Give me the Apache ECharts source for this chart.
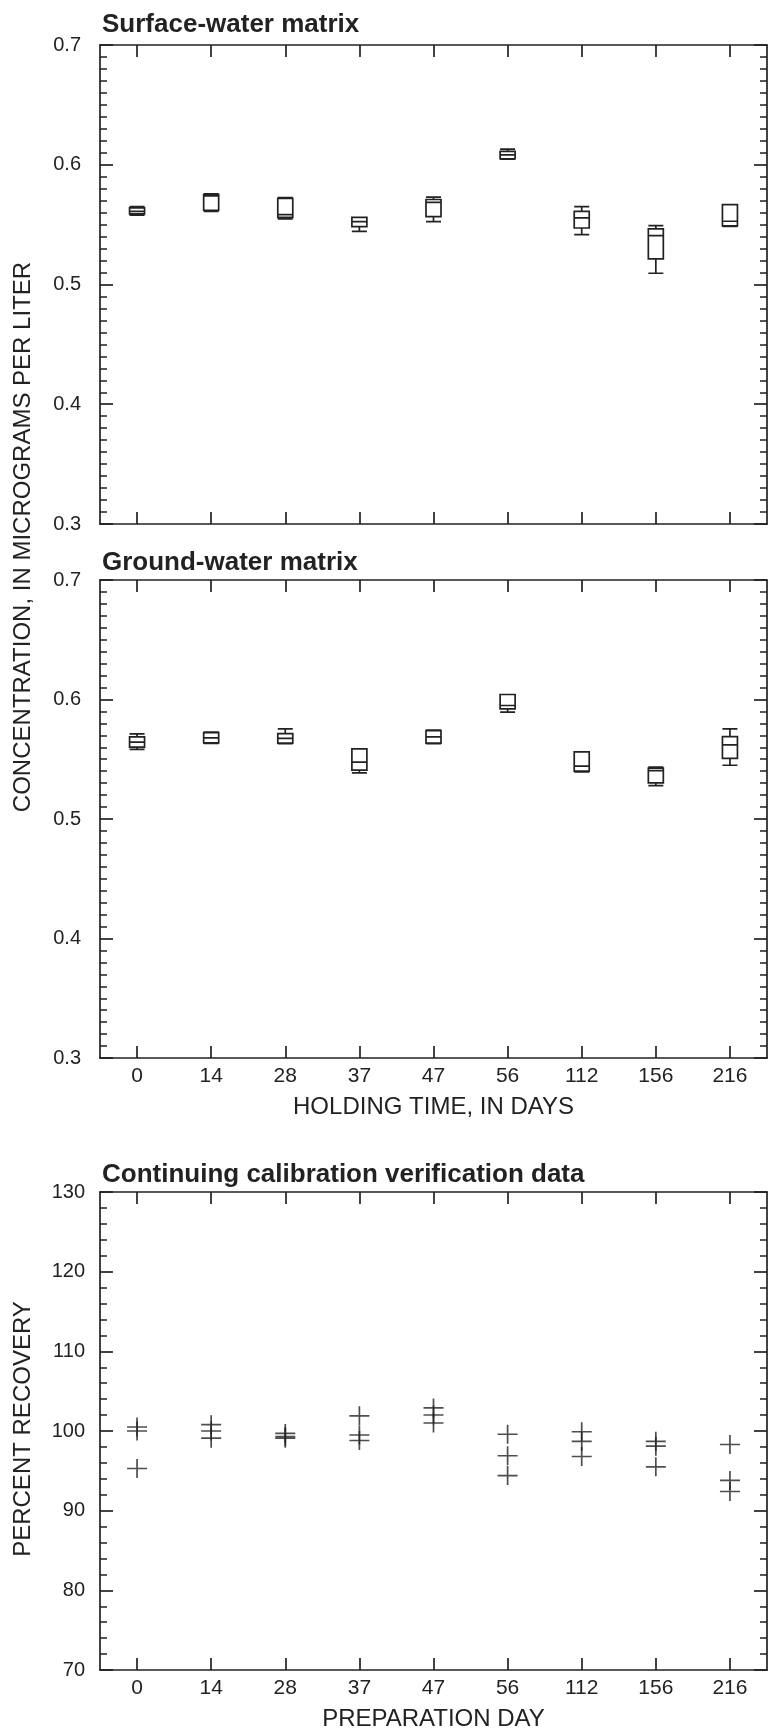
<!DOCTYPE html>
<html>
<head>
<meta charset="utf-8">
<script src="https://cdn.jsdelivr.net/npm/echarts@6/dist/echarts.min.js"></script>
<style>
html,body{margin:0;padding:0;background:#fff;}
#chart{width:774px;height:1733px;}
</style>
</head>
<body>
<div id="chart"></div>
<script>
// Categories (holding time / preparation day)
const days = ['0','14','28','37','47','56','112','156','216'];

// Surface-water matrix box statistics (micrograms per liter)
const surfMin = [0.5580, 0.5611, 0.5547, 0.5444, 0.5525, 0.6047, 0.5417, 0.5094, 0.5486];
const surfQ1  = [0.5590, 0.5620, 0.5560, 0.5483, 0.5567, 0.6050, 0.5472, 0.5214, 0.5490];
const surfMed = [0.5610, 0.5740, 0.5583, 0.5525, 0.5686, 0.6083, 0.5556, 0.5408, 0.5528];
const surfQ3  = [0.5640, 0.5750, 0.5720, 0.5561, 0.5710, 0.6111, 0.5611, 0.5464, 0.5667];
const surfMax = [0.5650, 0.5756, 0.5725, 0.5561, 0.5730, 0.6131, 0.5650, 0.5492, 0.5667];

// Ground-water matrix box statistics
const gwMin = [0.5582, 0.5632, 0.5630, 0.5386, 0.5630, 0.5894, 0.5395, 0.5280, 0.5450];
const gwQ1  = [0.5601, 0.5637, 0.5635, 0.5409, 0.5635, 0.5922, 0.5400, 0.5303, 0.5508];
const gwMed = [0.5643, 0.5679, 0.5675, 0.5476, 0.5688, 0.5950, 0.5442, 0.5405, 0.5620];
const gwQ3  = [0.5688, 0.5722, 0.5715, 0.5587, 0.5740, 0.6042, 0.5562, 0.5425, 0.5690];
const gwMax = [0.5713, 0.5727, 0.5755, 0.5587, 0.5743, 0.6042, 0.5562, 0.5434, 0.5755];

// Continuing calibration verification, percent recovery (three per day)
const recA = [100.5, 100.8, 99.7, 101.9, 102.9, 99.6, 99.9, 98.7, 98.3];
const recB = [100.0, 100.0, 99.3, 99.5, 102.0, 96.9, 98.7, 98.1, 93.8];
const recC = [ 95.3,  99.1, 99.1, 98.8, 101.0, 94.4, 96.8, 95.5, 92.4];

// Axis tick settings
const concTicks = {min: 0.3, max: 0.7, interval: 0.1};
const recTicks = {min: 70, max: 130, interval: 10};

const INK = '#222222';
const FONT = 'Liberation Sans, Arial, Helvetica, sans-serif';

const boxData = (mn, q1, md, q3, mx) => mn.map((v, i) => [v, q1[i], md[i], q3[i], mx[i]]);
const crossData = [];
[recA, recB, recC].forEach(arr => arr.forEach((v, i) => crossData.push([i, v])));

const grids = [
  {left: 100, top: 45, width: 667, height: 479},
  {left: 100, top: 580, width: 667, height: 478},
  {left: 100, top: 1192, width: 667, height: 478}
];

const lineStyle = {color: INK, width: 1.7};

function xAxes(g, showLabels, name) {
  return [
    {
      type: 'category', gridIndex: g, data: days, position: 'bottom', boundaryGap: true,
      axisLine: {show: true, lineStyle},
      axisTick: {show: true, inside: true, alignWithLabel: true, length: 12, lineStyle},
      axisLabel: {show: showLabels, color: INK, fontSize: 21, fontFamily: FONT, margin: 8},
      splitLine: {show: false},
      name: name || '', nameLocation: 'middle', nameGap: 37,
      nameTextStyle: {color: INK, fontSize: 24, fontFamily: FONT}
    },
    {
      type: 'category', gridIndex: g, data: days, position: 'top', boundaryGap: true,
      axisLine: {show: true, lineStyle},
      axisTick: {show: true, inside: true, alignWithLabel: true, length: 12, lineStyle},
      axisLabel: {show: false}, splitLine: {show: false}
    }
  ];
}

function yAxes(g, ticks, minorSplit, fmt, labelMargin) {
  const common = {
    type: 'value', gridIndex: g, min: ticks.min, max: ticks.max, interval: ticks.interval,
    axisLine: {show: true, lineStyle},
    axisTick: {show: true, inside: true, length: 13, lineStyle},
    minorTick: {show: true, splitNumber: minorSplit, length: 7, lineStyle: {color: INK, width: 1.5}},
    splitLine: {show: false}, minorSplitLine: {show: false}
  };
  return [
    Object.assign({}, common, {
      position: 'left',
      axisLabel: {show: true, color: INK, fontSize: 20, fontFamily: FONT, margin: labelMargin, formatter: fmt}
    }),
    Object.assign({}, common, {position: 'right', axisLabel: {show: false}})
  ];
}

const fmt1 = v => Number(v).toFixed(1);
const fmt0 = v => String(Math.round(v));

const option = {
  backgroundColor: '#ffffff',
  animation: false,
  grid: grids,
  xAxis: [].concat(
    xAxes(0, false),
    xAxes(1, true, 'HOLDING TIME, IN DAYS'),
    xAxes(2, true, 'PREPARATION DAY')
  ),
  yAxis: [].concat(
    yAxes(0, concTicks, 10, fmt1, 19),
    yAxes(1, concTicks, 10, fmt1, 19),
    yAxes(2, recTicks, 5, fmt0, 15)
  ),
  graphic: [
    {type: 'text', x: 102, y: 25, style: {text: 'Surface-water matrix', font: 'bold 26px ' + FONT, fill: INK, verticalAlign: 'middle'}},
    {type: 'text', x: 102, y: 563, style: {text: 'Ground-water matrix', font: 'bold 26px ' + FONT, fill: INK, verticalAlign: 'middle'}},
    {type: 'text', x: 102, y: 1175, style: {text: 'Continuing calibration verification data', font: 'bold 26px ' + FONT, fill: INK, verticalAlign: 'middle'}},
    {type: 'text', x: 23, y: 537, rotation: Math.PI / 2, style: {text: 'CONCENTRATION, IN MICROGRAMS PER LITER', font: '24px ' + FONT, fill: INK, align: 'center', verticalAlign: 'middle'}},
    {type: 'text', x: 23, y: 1429, rotation: Math.PI / 2, style: {text: 'PERCENT RECOVERY', font: '24px ' + FONT, fill: INK, align: 'center', verticalAlign: 'middle'}}
  ],
  series: [
    {
      type: 'boxplot', xAxisIndex: 0, yAxisIndex: 0,
      data: boxData(surfMin, surfQ1, surfMed, surfQ3, surfMax),
      boxWidth: [15, 15],
      itemStyle: {color: '#ffffff', borderColor: INK, borderWidth: 1.7}
    },
    {
      type: 'boxplot', xAxisIndex: 2, yAxisIndex: 2,
      data: boxData(gwMin, gwQ1, gwMed, gwQ3, gwMax),
      boxWidth: [15, 15],
      itemStyle: {color: '#ffffff', borderColor: INK, borderWidth: 1.7}
    },
    {
      type: 'scatter', xAxisIndex: 4, yAxisIndex: 4,
      data: crossData,
      symbol: 'path://M0,9.15h20v1.7h-20z M9.15,0h1.7v20h-1.7z',
      symbolSize: [20, 19],
      itemStyle: {color: INK}
    }
  ]
};

const chart = echarts.init(document.getElementById('chart'), null, {renderer: 'canvas'});
chart.setOption(option);
</script>
</body>
</html>
